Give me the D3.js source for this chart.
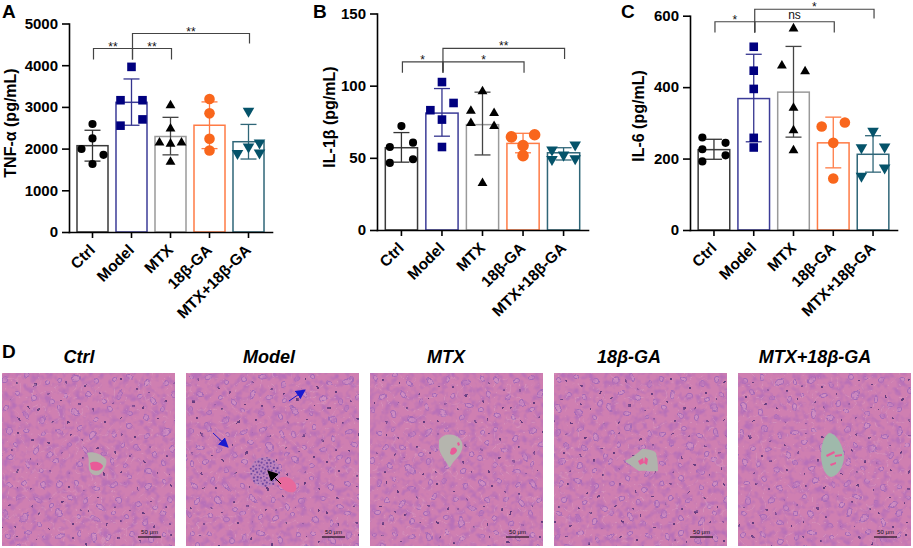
<!DOCTYPE html>
<html lang="en">
  <head>
    <meta charset="utf-8">
    <script src="https://d3js.org/d3.v7.min.js"></script>
    <style>
      body { margin: 0; background: #fff; }
      svg { display: block; font-family: "Liberation Sans", Arial, sans-serif; }
      .tick text { font-weight: bold; font-size: 15px; fill: #000; }
      .domain, .tick line { stroke: #000; stroke-width: 1.6px; }
    </style>
  </head>
  <body>
    <svg width="913" height="548"></svg>
    <script>
      var categories = ["Ctrl", "Model", "MTX", "18β-GA", "MTX+18β-GA"];

      // TNF-a
      var tnfMeans = [2070, 3110, 2290, 2560, 2165];
      var tnfLow = [1700, 2560, 1850, 2000, 1750];
      var tnfHigh = [2440, 3670, 2750, 3120, 2580];
      var tnfPoints = [
        [2590, 2245, 1990, 1850, 1630],
        [3960, 3160, 3160, 2700, 2550],
        [3035, 2480, 2140, 2115, 2140, 1680],
        [3190, 2845, 2235, 1955],
        [2900, 2045, 2140, 1885, 1900]
      ];
      var tnfSlots = [
        [0, 0, -1, 1, 0],
        [0, -1, 1, 1, -1],
        [0, 0, -1, 0, 1, 0],
        [0, 0, 0, 0],
        [0, 0, 1, -1, 1]
      ];
      // from, to, bracket top, left end, right end, label
      var tnfBrackets = [
        [0, 1, 4400, 4137, 4137, "**"],
        [1, 2, 4400, 4137, 4137, "**"],
        [1, 4, 4760, 4400, 4520, "**"]
      ];

      // IL-1b
      var il1Means = [57, 81, 73, 60, 53.5];
      var il1Low = [47, 65, 52, 53.5, 48.5];
      var il1High = [67.5, 98, 95.5, 67, 57];
      var il1Points = [
        [72, 57.5, 60.5, 49, 46.5],
        [102.5, 88, 83, 76.5, 57.5],
        [96, 82.5, 81, 74, 72, 32.5],
        [64.5, 66, 58.5, 51.5],
        [55.5, 59, 52, 49, 49.5]
      ];
      var il1Slots = [
        [0, -1, 1, 1, -1],
        [0, 1, -1, 0, 0],
        [0, -1, 1, -1, 1, 0],
        [-1, 1, 0, 0],
        [-1, 1, 0, -1, 1]
      ];
      var il1Brackets = [
        [0, 1, 116.5, 109, 109, "*"],
        [1, 3, 116.5, 109, 109, "*"],
        [1, 4, 125.8, 110, 118.4, "**"]
      ];

      // IL-6
      var il6Means = [225, 368, 386, 244, 212];
      var il6Low = [198, 247, 260, 174, 162];
      var il6High = [254, 492, 514, 316, 264];
      var il6Points = [
        [259, 244, 226, 209, 192],
        [513, 446, 395, 258, 231],
        [564, 460, 444, 342, 279, 223],
        [290, 301, 244, 144],
        [277, 231, 233, 174, 151]
      ];
      var il6Slots = [
        [-1, 1, -1, 1, -1],
        [0, 0, 0, 0, 0],
        [0, -1, 1, 0, 0, 0],
        [-1, 1, 0, 0],
        [0, -1, 1, 1, -1]
      ];
      var il6Brackets = [
        [0, 1, 583, 553, 553, "*"],
        [1, 3, 583, 553, 553, "ns"],
        [1, 4, 618, 553, 592, "*"]
      ];

      var barColors = ["#3a3a3a", "#3c3c98", "#9a9a9a", "#ff7b45", "#2f6678"];
      var errColors = ["#333", "#34348f", "#444", "#ff7b45", "#2f6678"];
      var markColors = ["#000", "#00007f", "#000", "#f9661c", "#05536a"];
      var markShapes = [d3.symbolCircle, d3.symbolSquare, d3.symbolTriangle, d3.symbolCircle, d3.symbolTriangle];
      var markSizes = [52, 74, 42, 88, 58];

      var svg = d3.select("svg");

      function drawPanel(o) {
        var y = d3.scaleLinear().domain([0, o.max]).range([o.y0, o.y1]);
        var x = d3.scaleBand().domain(categories).range([o.x0, o.x1]).padding(0.205);
        var g = svg.append("g");
        var mid = function(i) { return x(categories[i]) + x.bandwidth() / 2; };

        // bars
        g.selectAll("rect").data(o.means).enter().append("rect")
          .attr("x", function(d, i) { return mid(i) - x.bandwidth() / 2; })
          .attr("y", function(d) { return y(d); })
          .attr("width", x.bandwidth())
          .attr("height", function(d) { return o.y0 - y(d); })
          .attr("fill", "#fff")
          .attr("stroke", function(d, i) { return barColors[i]; })
          .attr("stroke-width", 1.5);

        // error bars
        categories.forEach(function(c, i) {
          var e = g.append("g").attr("stroke", errColors[i]).attr("stroke-width", 1.3);
          e.append("line").attr("x1", mid(i)).attr("x2", mid(i)).attr("y1", y(o.low[i])).attr("y2", y(o.high[i]));
          [o.low[i], o.high[i]].forEach(function(v) {
            e.append("line").attr("x1", mid(i) - 8).attr("x2", mid(i) + 8).attr("y1", y(v)).attr("y2", y(v));
          });
        });

        // points
        o.points.forEach(function(vals, i) {
          var flip = i == 4;
          var size = i == 3 ? o.orange : markSizes[i];
          var sym = d3.symbol().type(markShapes[i]).size(size);
          g.selectAll(null).data(vals).enter().append("path")
            .attr("d", sym)
            .attr("fill", markColors[i])
            .attr("transform", function(d, j) {
              return "translate(" + (mid(i) + o.slots[i][j] * o.spread) + "," + y(d) + ")" + (flip ? " rotate(180)" : "");
            });
        });

        // axes
        g.append("g").attr("transform", "translate(0," + o.y0 + ")")
          .call(d3.axisBottom(x).tickSize(6).tickSizeOuter(0))
          .selectAll("text")
            .attr("text-anchor", "end")
            .attr("transform", "rotate(-45)")
            .attr("x", -11)
            .attr("y", 11)
            .attr("dy", "0.32em")
            .style("font-size", "15.5px");
        g.append("g").attr("transform", "translate(" + o.x0 + ",0)")
          .call(d3.axisLeft(y).tickValues(o.ticks).tickFormat(d3.format("d")).tickSize(7).tickPadding(4).tickSizeOuter(0));
        g.selectAll(".domain").attr("stroke-linecap", "square");

        // y label
        g.append("text")
          .attr("transform", "translate(" + o.labelX + "," + o.labelY + ") rotate(-90)")
          .attr("text-anchor", "middle")
          .attr("font-weight", "bold")
          .attr("font-size", 16)
          .text(o.label);

        // panel letter
        g.append("text").attr("x", o.letterX).attr("y", 18)
          .attr("font-weight", "bold").attr("font-size", 19).text(o.letter);

        // significance brackets
        o.brackets.forEach(function(b) {
          var xa = mid(b[0]) + 1, xb = mid(b[1]) + 1;
          g.append("path")
            .attr("d", d3.line()([[xa, y(b[3])], [xa, y(b[2])], [xb, y(b[2])], [xb, y(b[4])]]))
            .attr("fill", "none").attr("stroke", "#444").attr("stroke-width", 1.2);
          g.append("text")
            .attr("x", (xa + xb) / 2)
            .attr("y", y(b[2]) + (b[5] == "ns" ? -3 : 2))
            .attr("text-anchor", "middle")
            .attr("font-size", 12)
            .attr("fill", "#111")
            .text(b[5]);
        });
      }

      drawPanel({ letter: "A", letterX: 2, label: "TNF-α (pg/mL)", labelX: 16, labelY: 123,
        max: 5000, ticks: [0, 1000, 2000, 3000, 4000, 5000], x0: 69, x1: 272, y0: 232, y1: 23.5,
        means: tnfMeans, low: tnfLow, high: tnfHigh, points: tnfPoints, slots: tnfSlots, brackets: tnfBrackets, spread: 11, orange: 88 });
      drawPanel({ letter: "B", letterX: 313, label: "IL-1β (pg/mL)", labelX: 335, labelY: 117,
        max: 150, ticks: [0, 50, 100, 150], x0: 377, x1: 588, y0: 230, y1: 13.5,
        means: il1Means, low: il1Low, high: il1High, points: il1Points, slots: il1Slots, brackets: il1Brackets, spread: 11.6, orange: 106 });
      drawPanel({ letter: "C", letterX: 621, label: "IL-6 (pg/mL)", labelX: 644, labelY: 116,
        max: 600, ticks: [0, 200, 400, 600], x0: 690, x1: 897, y0: 230, y1: 15.7,
        means: il6Means, low: il6Low, high: il6High, points: il6Points, slots: il6Slots, brackets: il6Brackets, spread: 11.6, orange: 88 });

      // ---- panel D: stained section stand-ins, texture comes from svg filters
      var defs = svg.append("defs");

      var pat = defs.append("pattern").attr("id", "cells").attr("patternUnits", "userSpaceOnUse")
        .attr("width", 52).attr("height", 52);
      pat.append("rect").attr("width", 52).attr("height", 52).attr("fill", "#cf7fb1");
      [[6, 7], [24, 4], [42, 10], [14, 21], [33, 24], [49, 30], [5, 36], [23, 40], [40, 45]].forEach(function(c) {
        pat.append("circle").attr("cx", c[0]).attr("cy", c[1]).attr("r", 2.6)
          .attr("fill", "#cf8dc0").attr("stroke", "#9c62b6").attr("stroke-width", 0.9);
      });
      [[15, 9], [31, 14], [46, 21], [8, 28], [27, 32], [37, 36], [15, 47], [50, 48]].forEach(function(c) {
        pat.append("circle").attr("cx", c[0]).attr("cy", c[1]).attr("r", 0.9).attr("fill", "#2f1a66");
      });

      function tissueFilter(id, seed) {
        var f = defs.append("filter").attr("id", id).attr("x", 0).attr("y", 0).attr("width", 1).attr("height", 1)
          .attr("color-interpolation-filters", "sRGB");
        f.append("feTurbulence").attr("type", "fractalNoise").attr("baseFrequency", 0.05)
          .attr("numOctaves", 1).attr("seed", seed).attr("result", "warp");
        f.append("feDisplacementMap").attr("in", "SourceGraphic").attr("in2", "warp").attr("scale", 16)
          .attr("xChannelSelector", "R").attr("yChannelSelector", "G").attr("result", "base");
        // pale gaps between the cells
        f.append("feTurbulence").attr("type", "turbulence").attr("baseFrequency", 0.08)
          .attr("numOctaves", 2).attr("seed", seed + 3).attr("result", "t1");
        f.append("feColorMatrix").attr("in", "t1").attr("type", "matrix")
          .attr("values", "0 0 0 0 0.87  0 0 0 0 0.66  0 0 0 0 0.78  -5 0 0 0 0.42").attr("result", "pale");
        // purple mottling
        f.append("feTurbulence").attr("type", "fractalNoise").attr("baseFrequency", 0.14)
          .attr("numOctaves", 2).attr("seed", seed + 7).attr("result", "t2");
        f.append("feColorMatrix").attr("in", "t2").attr("type", "matrix")
          .attr("values", "0 0 0 0 0.72  0 0 0 0 0.44  0 0 0 0 0.72  0 3 0 0 -1.35").attr("result", "mott");
        // blur the lot so it reads like a small jpeg
        var m = f.append("feMerge").attr("result", "all");
        m.append("feMergeNode").attr("in", "base");
        m.append("feMergeNode").attr("in", "mott");
        m.append("feMergeNode").attr("in", "pale");
        f.append("feGaussianBlur").attr("in", "all").attr("stdDeviation", 0.5);
      }

      var soft = defs.append("filter").attr("id", "soft");
      soft.append("feGaussianBlur").attr("stdDeviation", 0.5);

      [["headBlue", "#1a1ad0", 10], ["headBlack", "#000", 11]].forEach(function(h) {
        defs.append("marker").attr("id", h[0]).attr("viewBox", "0 0 10 10").attr("refX", 9).attr("refY", 5)
          .attr("markerWidth", h[2]).attr("markerHeight", h[2]).attr("markerUnits", "userSpaceOnUse").attr("orient", "auto")
          .append("path").attr("d", "M0,0L10,5L0,10Z").attr("fill", h[1]);
      });

      var photoTitles = ["Ctrl", "Model", "MTX", "18β-GA", "MTX+18β-GA"];
      var photoLeft = [2, 186, 370, 554, 738];
      var titleMid = [79, 269, 446, 629, 815];
      var photoSize = 173;
      var vessels = [
        { d: "M85,80C90,78 99,81 104,86C106,91 101,99 97,102C92,103 88,101 87,96C86,91 88,86 85,80Z", fill: "#b4b2ac",
          red: ["M88,90C93,87 100,90 101,93C100,98 93,99 89,96Z"] },
        null,
        { d: "M69,67C74,60 84,60 90,66C95,72 92,80 86,86C83,89 81,92 80,95C76,88 70,82 69,75Z", fill: "#b5b5ae",
          red: ["M81,76C84,73 87,75 87,78C85,82 81,83 80,80Z", "M87,70l2,-1l1,3l-2,1Z"] },
        { d: "M71,88C77,85 84,80 88,76C94,76 100,77 102,80C104,88 104,94 104,98C96,99 90,97 85,98C79,94 75,91 71,88Z", fill: "#b0b3ac",
          red: ["M84,88l5,-3l1,5l-4,2Z", "M91,84l3,2l-1,6l-3,-2Z"] },
        { d: "M91,60C98,60 105,72 106,83C106,93 100,103 93,104C87,103 84,94 83,84C83,73 85,64 91,60Z", fill: "#9fb9ab",
          red: ["M88,82l8,-4l1,2l-8,4Z", "M97,82l7,-1l0,2l-7,1Z", "M92,91l6,-2l0,2l-5,2Z"] }
      ];

      photoTitles.forEach(function(t, i) {
        tissueFilter("tissue" + i, 4 + i * 11);
        defs.append("clipPath").attr("id", "crop" + i)
          .append("rect").attr("width", photoSize).attr("height", photoSize);
        var left = photoLeft[i];
        var p = svg.append("g").attr("transform", "translate(" + left + ",373)").attr("clip-path", "url(#crop" + i + ")");

        // oversized so the displaced edge stays outside the crop
        p.append("rect").attr("x", -20).attr("y", -20).attr("width", photoSize + 40).attr("height", photoSize + 40)
          .attr("fill", "url(#cells)").attr("filter", "url(#tissue" + i + ")");

        var v = vessels[i];
        var o = p.append("g").attr("filter", "url(#soft)");
        if (v) {
          o.append("path").attr("d", v.d).attr("fill", v.fill);
          v.red.forEach(function(r) { o.append("path").attr("d", r).attr("fill", "#e95a98"); });
        } else {
          // inflammatory focus and congested vessel in the model section
          o.append("path").attr("d", "M92,106C98,102 106,104 110,112C112,119 106,121 100,118C95,115 91,111 92,106Z").attr("fill", "#e8699c");
          o.append("circle").attr("cx", 79).attr("cy", 99).attr("r", 15).attr("fill", "#b585c0").attr("opacity", 0.7);
          d3.range(0, 60).forEach(function(k) {
            var a = k * 2.39996, r = 1.9 * Math.sqrt(k);
            o.append("circle").attr("cx", 79 + r * Math.cos(a)).attr("cy", 99 + r * Math.sin(a))
              .attr("r", k % 3 == 0 ? 0.7 : 1.1).attr("fill", "#64409c").attr("opacity", 0.85);
          });
        }
        if (i == 1) {
          p.append("line").attr("x1", 95).attr("y1", 111).attr("x2", 82).attr("y2", 98)
            .attr("stroke", "#000").attr("stroke-width", 1).attr("marker-end", "url(#headBlack)");
          [[103, 28, 119, 17], [27, 60, 42, 74]].forEach(function(a) {
            p.append("line").attr("x1", a[0]).attr("y1", a[1]).attr("x2", a[2]).attr("y2", a[3])
              .attr("stroke", "#1a1ad0").attr("stroke-width", 1).attr("marker-end", "url(#headBlue)");
          });
        }

        // scale bar
        p.append("line").attr("x1", 136).attr("x2", 159).attr("y1", 164).attr("y2", 164)
          .attr("stroke", "#000").attr("stroke-width", 1);
        p.append("text").attr("x", 147.5).attr("y", 161).attr("text-anchor", "middle")
          .attr("font-size", 6).attr("fill", "#111").text("50 μm");

        svg.append("text").attr("x", titleMid[i]).attr("y", 363).attr("text-anchor", "middle")
          .attr("font-weight", "bold").attr("font-style", "italic").attr("font-size", 18).text(t);
      });

      svg.append("text").attr("x", 2).attr("y", 358).attr("font-weight", "bold").attr("font-size", 19).text("D");
    </script>
  </body>
</html>
